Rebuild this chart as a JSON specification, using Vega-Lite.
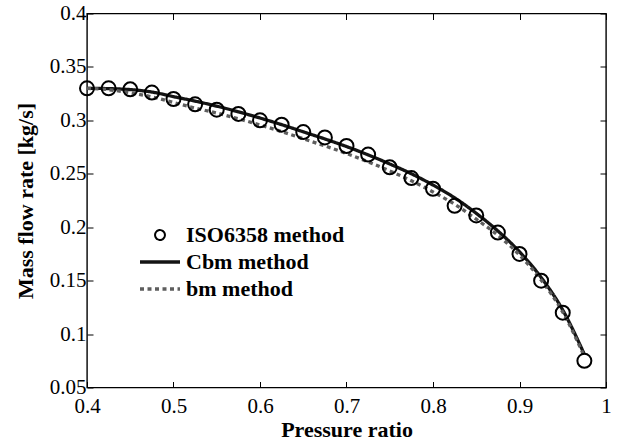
{
  "$schema": "https://vega.github.io/schema/vega-lite/v6.json",
  "width": 519,
  "height": 374,
  "autosize": "none",
  "padding": {"left": 87, "top": 13.5, "right": 11, "bottom": 53.5},
  "background": "white",
  "config": {
    "view": {"stroke": "black", "strokeWidth": 1.4},
    "font": "Liberation Serif",
    "axis": {
      "grid": false,
      "domain": false,
      "labelFont": "Liberation Serif",
      "labelFontSize": 21,
      "labelColor": "black",
      "titleFont": "Liberation Serif",
      "titleFontSize": 22,
      "titleFontWeight": "bold",
      "titleColor": "black",
      "tickColor": "black",
      "tickSize": -6,
      "tickWidth": 1,
      "labelFlush": false,
      "labelOverlap": false,
      "format": "~g"
    },
    "legend": {
      "labelFont": "Liberation Serif",
      "labelFontSize": 22,
      "labelFontWeight": "bold",
      "labelColor": "black",
      "symbolSize": 1600,
      "symbolStrokeWidth": 3.3,
      "symbolOffset": 13,
      "labelOffset": 15,
      "padding": 0,
      "rowPadding": 0,
      "clipHeight": 27
    }
  },
  "data": {
    "values": [
      {"series": "ISO6358 method", "x": 0.4, "y": 0.330},
      {"series": "ISO6358 method", "x": 0.425, "y": 0.330},
      {"series": "ISO6358 method", "x": 0.45, "y": 0.329},
      {"series": "ISO6358 method", "x": 0.475, "y": 0.326},
      {"series": "ISO6358 method", "x": 0.5, "y": 0.320},
      {"series": "ISO6358 method", "x": 0.525, "y": 0.315},
      {"series": "ISO6358 method", "x": 0.55, "y": 0.310},
      {"series": "ISO6358 method", "x": 0.575, "y": 0.306},
      {"series": "ISO6358 method", "x": 0.6, "y": 0.300},
      {"series": "ISO6358 method", "x": 0.625, "y": 0.296},
      {"series": "ISO6358 method", "x": 0.65, "y": 0.289},
      {"series": "ISO6358 method", "x": 0.675, "y": 0.284},
      {"series": "ISO6358 method", "x": 0.7, "y": 0.276},
      {"series": "ISO6358 method", "x": 0.725, "y": 0.268},
      {"series": "ISO6358 method", "x": 0.75, "y": 0.256},
      {"series": "ISO6358 method", "x": 0.775, "y": 0.246},
      {"series": "ISO6358 method", "x": 0.8, "y": 0.236},
      {"series": "ISO6358 method", "x": 0.825, "y": 0.220},
      {"series": "ISO6358 method", "x": 0.85, "y": 0.211},
      {"series": "ISO6358 method", "x": 0.875, "y": 0.195},
      {"series": "ISO6358 method", "x": 0.9, "y": 0.175},
      {"series": "ISO6358 method", "x": 0.925, "y": 0.150},
      {"series": "ISO6358 method", "x": 0.95, "y": 0.120},
      {"series": "ISO6358 method", "x": 0.975, "y": 0.075},
      {"series": "Cbm method", "x": 0.4, "y": 0.3300},
      {"series": "Cbm method", "x": 0.425, "y": 0.3297},
      {"series": "Cbm method", "x": 0.45, "y": 0.3288},
      {"series": "Cbm method", "x": 0.475, "y": 0.3265},
      {"series": "Cbm method", "x": 0.5, "y": 0.3222},
      {"series": "Cbm method", "x": 0.525, "y": 0.3180},
      {"series": "Cbm method", "x": 0.55, "y": 0.3133},
      {"series": "Cbm method", "x": 0.575, "y": 0.3080},
      {"series": "Cbm method", "x": 0.6, "y": 0.3022},
      {"series": "Cbm method", "x": 0.625, "y": 0.2960},
      {"series": "Cbm method", "x": 0.65, "y": 0.2893},
      {"series": "Cbm method", "x": 0.675, "y": 0.2826},
      {"series": "Cbm method", "x": 0.7, "y": 0.2755},
      {"series": "Cbm method", "x": 0.725, "y": 0.2677},
      {"series": "Cbm method", "x": 0.75, "y": 0.2592},
      {"series": "Cbm method", "x": 0.775, "y": 0.2500},
      {"series": "Cbm method", "x": 0.8, "y": 0.2395},
      {"series": "Cbm method", "x": 0.825, "y": 0.2275},
      {"series": "Cbm method", "x": 0.85, "y": 0.2130},
      {"series": "Cbm method", "x": 0.875, "y": 0.1965},
      {"series": "Cbm method", "x": 0.9, "y": 0.1770},
      {"series": "Cbm method", "x": 0.925, "y": 0.1530},
      {"series": "Cbm method", "x": 0.95, "y": 0.1225},
      {"series": "Cbm method", "x": 0.975, "y": 0.0810},
      {"series": "bm method", "x": 0.4, "y": 0.3300},
      {"series": "bm method", "x": 0.425, "y": 0.3287},
      {"series": "bm method", "x": 0.45, "y": 0.3258},
      {"series": "bm method", "x": 0.475, "y": 0.3220},
      {"series": "bm method", "x": 0.5, "y": 0.3167},
      {"series": "bm method", "x": 0.525, "y": 0.3115},
      {"series": "bm method", "x": 0.55, "y": 0.3068},
      {"series": "bm method", "x": 0.575, "y": 0.3015},
      {"series": "bm method", "x": 0.6, "y": 0.2957},
      {"series": "bm method", "x": 0.625, "y": 0.2895},
      {"series": "bm method", "x": 0.65, "y": 0.2828},
      {"series": "bm method", "x": 0.675, "y": 0.2761},
      {"series": "bm method", "x": 0.7, "y": 0.2690},
      {"series": "bm method", "x": 0.725, "y": 0.2612},
      {"series": "bm method", "x": 0.75, "y": 0.2527},
      {"series": "bm method", "x": 0.775, "y": 0.2435},
      {"series": "bm method", "x": 0.8, "y": 0.2330},
      {"series": "bm method", "x": 0.825, "y": 0.2215},
      {"series": "bm method", "x": 0.85, "y": 0.2075},
      {"series": "bm method", "x": 0.875, "y": 0.1925},
      {"series": "bm method", "x": 0.9, "y": 0.1740},
      {"series": "bm method", "x": 0.925, "y": 0.1505},
      {"series": "bm method", "x": 0.95, "y": 0.1205},
      {"series": "bm method", "x": 0.975, "y": 0.0790}
    ]
  },
  "layer": [
    {
      "transform": [{"filter": "datum.series !== 'ISO6358 method'"}],
      "mark": {"type": "line", "strokeWidth": 3.3, "interpolate": "monotone"},
      "encoding": {
        "x": {
          "field": "x", "type": "quantitative",
          "scale": {"domain": [0.4, 1], "nice": false, "zero": false},
          "axis": {
            "orient": "bottom",
            "values": [0.4, 0.5, 0.6, 0.7, 0.8, 0.9, 1],
            "title": "Pressure ratio",
            "labelBaseline": "alphabetic",
            "labelPadding": 31,
            "titleBaseline": "alphabetic",
            "titleY": 49
          }
        },
        "y": {
          "field": "y", "type": "quantitative",
          "scale": {"domain": [0.05, 0.4], "nice": false, "zero": false},
          "axis": {
            "orient": "left",
            "values": [0.05, 0.1, 0.15, 0.2, 0.25, 0.3, 0.35, 0.4],
            "title": "Mass flow rate [kg/s]",
            "labelPadding": 7,
            "titleX": -62,
            "titleY": 187,
            "titleAngle": -90,
            "titleAlign": "center",
            "titleBaseline": "middle"
          }
        },
        "color": {
          "field": "series", "type": "nominal",
          "scale": {"domain": ["ISO6358 method", "Cbm method", "bm method"], "range": ["#000000", "#141414", "#5e5e5e"]},
          "legend": {
            "title": null,
            "orient": "none",
            "legendX": 49,
            "legendY": 208,
            "encode": {
              "symbols": {
                "update": {
                  "size": {"signal": "datum.value === 'ISO6358 method' ? 1550 : 1600"},
                  "strokeWidth": {"signal": "datum.value === 'ISO6358 method' ? 2 : 3.3"},
                  "fill": {"value": "transparent"}
                }
              }
            }
          }
        },
        "strokeDash": {
          "field": "series", "type": "nominal",
          "scale": {"domain": ["ISO6358 method", "Cbm method", "bm method"], "range": [[1, 0], [1, 0], [4, 3.5]]},
          "legend": {"title": null, "orient": "none", "legendX": 49, "legendY": 208}
        }
      }
    },
    {
      "transform": [{"filter": "datum.series === 'ISO6358 method'"}],
      "mark": {"type": "point", "filled": false, "size": 3136, "strokeWidth": 2, "opacity": 1},
      "encoding": {
        "x": {
          "field": "x", "type": "quantitative",
          "axis": {"orient": "top", "values": [0.4, 0.5, 0.6, 0.7, 0.8, 0.9, 1], "labels": false, "title": null}
        },
        "y": {
          "field": "y", "type": "quantitative",
          "axis": {"orient": "right", "values": [0.05, 0.1, 0.15, 0.2, 0.25, 0.3, 0.35, 0.4], "labels": false, "title": null}
        },
        "color": {"field": "series", "type": "nominal"},
        "shape": {
          "field": "series", "type": "nominal",
          "scale": {"domain": ["ISO6358 method", "Cbm method", "bm method"], "range": ["M-0.25,0A0.25,0.25,0,1,0,0.25,0A0.25,0.25,0,1,0,-0.25,0Z", "stroke", "stroke"]},
          "legend": {"title": null, "orient": "none", "legendX": 49, "legendY": 208}
        }
      }
    }
  ],
  "resolve": {"axis": {"x": "independent", "y": "independent"}}
}
